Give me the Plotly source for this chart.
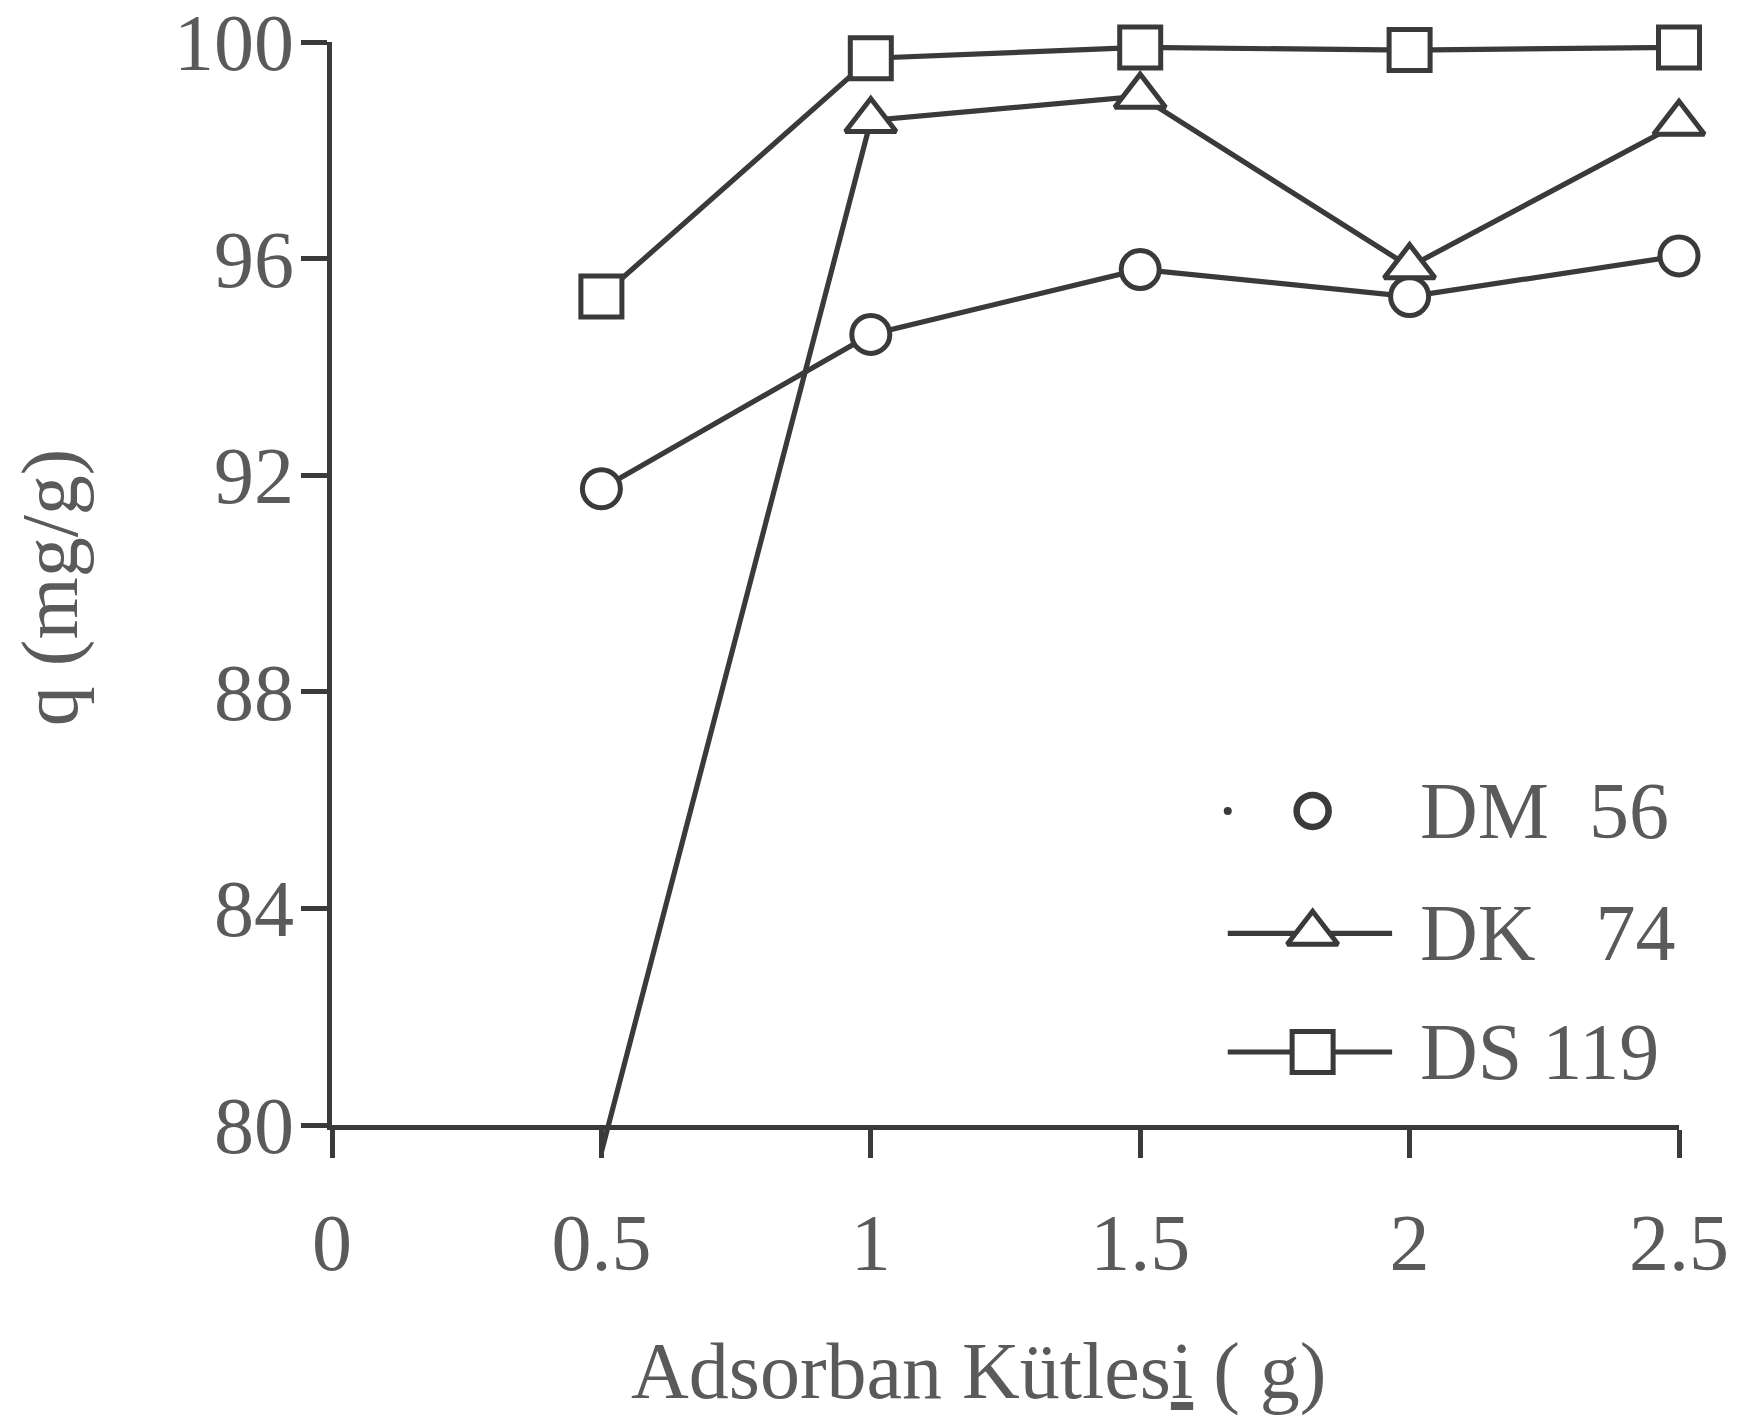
import plotly.graph_objects as go

# Adsorbent mass (g)
mass = [0.5, 1.0, 1.5, 2.0, 2.5]

# Adsorbed amount q (mg/g) for each dye
dm56 = [91.75, 94.6, 95.8, 95.3, 96.05]
dk74 = [79.5, 98.55, 99.0, 95.85, 98.5]
ds119 = [95.3, 99.7, 99.9, 99.85, 99.9]

x_ticks = [0, 0.5, 1, 1.5, 2, 2.5]
x_labels = ["0", "0.5", "1", "1.5", "2", "2.5"]
y_ticks = [80, 84, 88, 92, 96, 100]
y_labels = ["80", "84", "88", "92", "96", "100"]

FONT = "Liberation Serif"
TEXT_C = "#5a5a5a"
INK = "#3a3a3a"
LW = 5.2
MLW = 5.0

# Page geometry (px): the frame spans 42..1125 vertically; the data layer
# reaches a little lower so the DK 74 line can run past the 80 baseline.
W, H = 1746, 1428
TOP, BASE, DATA_BOTTOM = 42, 1125, 1165
Y_MIN, Y_MAX = 80, 100
px_per_unit = (BASE - TOP) / (Y_MAX - Y_MIN)
data_y_min = Y_MIN - (DATA_BOTTOM - BASE) / px_per_unit
frame_dom0 = (DATA_BOTTOM - BASE) / (DATA_BOTTOM - TOP)

series = [
    ("DM  56", dm56, "circle", 38),
    ("DK   74", dk74, "triangle-up", 44),
    ("DS 119", ds119, "square", 41),
]

fig = go.Figure()
for name, vals, sym, size in series:
    # points that fall below the frame show only as the line running off it
    sizes = [size if v >= Y_MIN else 0 for v in vals]
    fig.add_trace(go.Scatter(
        x=mass, y=vals, mode="lines+markers", name=name,
        line=dict(color=INK, width=LW),
        marker=dict(symbol=sym, size=sizes, color="white", opacity=1,
                    line=dict(color=INK, width=MLW)),
        cliponaxis=False, showlegend=False,
    ))

# empty trace so the frame subplot (x2/y2) gets drawn
fig.add_trace(go.Scatter(x=[], y=[], xaxis="x2", yaxis="y2",
                         showlegend=False, hoverinfo="skip"))

# Hand-built key in the lower right, drawn on a hidden unit axis pair
key_x0, key_x1, key_mx, key_tx = 0.665, 0.787, 0.728, 0.806
key_rows = [0.290, 0.177, 0.0674]
for (name, _, sym, size), ky in zip(series, key_rows):
    if sym == "circle":
        fig.add_trace(go.Scatter(
            x=[key_x0], y=[ky], mode="markers", xaxis="x3", yaxis="y3",
            marker=dict(size=8, color=INK), showlegend=False, hoverinfo="skip"))
        fig.add_trace(go.Scatter(
            x=[key_mx], y=[ky], mode="markers", xaxis="x3", yaxis="y3",
            marker=dict(symbol=sym, size=size - 6, color="white",
                        line=dict(color=INK, width=MLW + 1.5)),
            showlegend=False, hoverinfo="skip"))
    else:
        fig.add_trace(go.Scatter(
            x=[key_x0, key_x1], y=[ky, ky], mode="lines", xaxis="x3", yaxis="y3",
            line=dict(color=INK, width=LW), showlegend=False, hoverinfo="skip"))
        fig.add_trace(go.Scatter(
            x=[key_mx], y=[ky], mode="markers", xaxis="x3", yaxis="y3",
            marker=dict(symbol=sym, size=size, color="white",
                        line=dict(color=INK, width=MLW)),
            showlegend=False, hoverinfo="skip"))
    fig.add_annotation(
        x=key_tx, y=ky, xref="x3", yref="y3", text=name.replace(" ", "\u00a0"),
        showarrow=False, xanchor="left", yanchor="middle",
        font=dict(family=FONT, size=80, color=TEXT_C))

tickfont = dict(family=FONT, size=80, color=TEXT_C)

fig.update_layout(
    width=W, height=H,
    margin=dict(l=332, r=67, t=TOP, b=H - DATA_BOTTOM),
    paper_bgcolor="white", plot_bgcolor="rgba(0,0,0,0)",
    font=dict(family=FONT, size=80, color=TEXT_C),
    # data layer (axes hidden)
    xaxis=dict(range=[0, 2.5], visible=False, automargin=False, anchor="y"),
    yaxis=dict(range=[data_y_min, Y_MAX], domain=[0, 1], visible=False,
               automargin=False, anchor="x"),
    # drawn frame: axis lines, ticks and labels
    xaxis2=dict(
        range=[0, 2.5], anchor="y2", tickmode="array", tickvals=x_ticks,
        ticktext=x_labels, showline=True, linecolor=INK, linewidth=5,
        mirror=False, ticks="outside", ticklen=28, tickwidth=5, tickcolor=INK,
        showgrid=False, zeroline=False, ticklabelstandoff=16,
        ticklabeloverflow="allow", automargin=False, tickfont=tickfont,
    ),
    yaxis2=dict(
        range=[Y_MIN, Y_MAX], domain=[frame_dom0, 1], anchor="x2",
        tickmode="array", tickvals=y_ticks, ticktext=y_labels,
        showline=True, linecolor=INK, linewidth=5, mirror=False,
        ticks="outside", ticklen=26, tickwidth=5, tickcolor=INK,
        showgrid=False, zeroline=False, ticklabelstandoff=-9,
        ticklabeloverflow="allow", automargin=False, tickfont=tickfont,
    ),
    # unit axes for the key
    xaxis3=dict(overlaying="x2", range=[0, 1], visible=False, anchor="y3"),
    yaxis3=dict(overlaying="y2", range=[0, 1], visible=False, anchor="x3"),
    showlegend=False,
)

fig.add_annotation(
    x=0.4796, y=-0.228, xref="x2 domain", yref="y2 domain",
    text="Adsorban Kütles<u>i</u> ( g)", showarrow=False,
    xanchor="center", yanchor="middle",
    font=dict(family=FONT, size=80, color=TEXT_C))
fig.add_annotation(
    x=-0.209, y=0.497, xref="x2 domain", yref="y2 domain",
    text="q (mg/g)", textangle=-90, showarrow=False,
    xanchor="center", yanchor="middle",
    font=dict(family=FONT, size=80, color=TEXT_C))

fig.write_html("out.html")
